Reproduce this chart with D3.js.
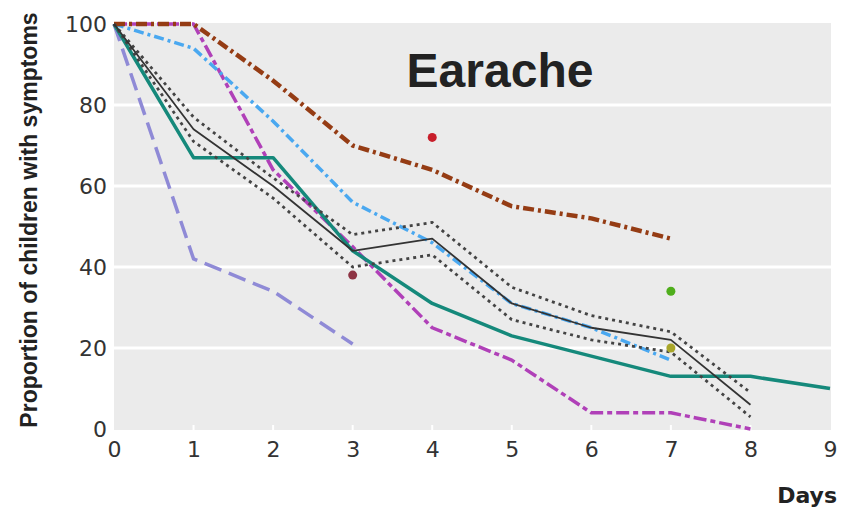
<!DOCTYPE html>
<html>
<head>
<meta charset="utf-8">
<script src="https://cdnjs.cloudflare.com/ajax/libs/d3/7.8.5/d3.min.js"></script>
<style>
  html, body { margin: 0; padding: 0; background: #fff; }
  svg { display: block; }
</style>
</head>
<body>
<div id="chart"></div>
<script>
// days on the x axis
const days = [0, 1, 2, 3, 4, 5, 6, 7, 8, 9];
const yTicks = [0, 20, 40, 60, 80, 100];

// series (percent of children with symptoms)
const brown    = [100, 100, 86, 70, 64, 55, 52, 47];
const blue     = [100, 94, 76, 56, 46, 31, 25, 17];
const magenta  = [100, 100, 64, 45, 25, 17, 4, 4, 0];
const lavender = [100, 42, 34, 21];
const teal     = [100, 67, 67, 44, 31, 23, 18, 13, 13, 10];
const pooled   = [100, 74, 60, 44, 47, 31, 25, 22, 6];
const ciUpper  = [100, 77, 62, 48, 51, 35, 28, 24, 9];
const ciLower  = [100, 71, 57, 40, 43, 27, 22, 19, 3];

// single study points
const dotDays   = [4, 3, 7, 7];
const dotValues = [72, 38, 34, 20];
const dotColors = [`#c81e2a`, `#8e3444`, `#4fae1c`, `#a9a62a`];

const width = 844, height = 510;
const panel = { left: 114, right: 831, top: 23, bottom: 430 };

const svg = d3.select(`#chart`).append(`svg`)
    .attr(`width`, width)
    .attr(`height`, height);

const x = d3.scaleLinear().domain([0, 9]).range([114, 830]);
const y = d3.scaleLinear().domain([0, 100]).range([429, 24]);

svg.append(`rect`)
    .attr(`x`, panel.left)
    .attr(`y`, panel.top)
    .attr(`width`, panel.right - panel.left)
    .attr(`height`, panel.bottom - panel.top)
    .attr(`fill`, `#ebebeb`);

// white grid lines
svg.selectAll(`.grid`)
    .data(yTicks.filter(d => d > 0 && d < 100))
  .enter().append(`line`)
    .attr(`x1`, panel.left)
    .attr(`x2`, panel.right)
    .attr(`y1`, d => y(d))
    .attr(`y2`, d => y(d))
    .attr(`stroke`, `#fff`)
    .attr(`stroke-width`, 3);

// little white ticks on the bottom edge
svg.selectAll(`.xtick`)
    .data(days.slice(1, 9))
  .enter().append(`line`)
    .attr(`x1`, d => x(d))
    .attr(`x2`, d => x(d))
    .attr(`y1`, panel.bottom - 5)
    .attr(`y2`, panel.bottom)
    .attr(`stroke`, `#fff`)
    .attr(`stroke-width`, 2);

// axes as text only
const yAxis = d3.axisLeft(y).tickValues(yTicks).tickSize(0).tickPadding(7);
const gy = svg.append(`g`).attr(`transform`, `translate(${panel.left},0)`).call(yAxis);
gy.select(`.domain`).remove();
gy.selectAll(`text`)
    .attr(`font-family`, `DejaVu Sans, sans-serif`)
    .attr(`font-size`, 22)
    .attr(`fill`, `#333`);

const xAxis = d3.axisBottom(x).tickValues(days).tickSize(0).tickPadding(11);
const gx = svg.append(`g`).attr(`transform`, `translate(0,${panel.bottom})`).call(xAxis);
gx.select(`.domain`).remove();
gx.selectAll(`text`)
    .attr(`font-family`, `DejaVu Sans, sans-serif`)
    .attr(`font-size`, 22)
    .attr(`fill`, `#333`);

const line = d3.line()
    .x((d, i) => x(days[i]))
    .y(d => y(d));

const series = [
  { values: lavender, color: `#8f8ad6`, width: 3.5, dash: `18,8` },
  { values: magenta,  color: `#b040b8`, width: 3.5, dash: `13,4,5,4` },
  { values: blue,     color: `#4aa8f0`, width: 3.5, dash: `10,4,3,4` },
  { values: teal,     color: `#15897b`, width: 3.5, dash: null },
  { values: brown,    color: `#953c14`, width: 4.5, dash: `11,4,3,4` },
  { values: ciUpper,  color: `#444`,    width: 2.8, dash: `3,4` },
  { values: ciLower,  color: `#444`,    width: 2.8, dash: `3,4` },
  { values: pooled,   color: `#333`,    width: 1.8, dash: null }
];

svg.selectAll(`.series`)
    .data(series)
  .enter().append(`path`)
    .attr(`d`, d => line(d.values))
    .attr(`fill`, `none`)
    .attr(`stroke`, d => d.color)
    .attr(`stroke-width`, d => d.width)
    .attr(`stroke-dasharray`, d => d.dash)
    .attr(`stroke-linejoin`, `round`);

svg.selectAll(`.dot`)
    .data(dotValues)
  .enter().append(`circle`)
    .attr(`cx`, (d, i) => x(dotDays[i]))
    .attr(`cy`, d => y(d))
    .attr(`r`, 4.5)
    .attr(`fill`, (d, i) => dotColors[i]);

svg.append(`text`)
    .attr(`x`, 500)
    .attr(`y`, 87)
    .attr(`text-anchor`, `middle`)
    .attr(`font-family`, `Liberation Sans, Arial, sans-serif`)
    .attr(`font-weight`, `bold`)
    .attr(`font-size`, 48)
    .attr(`fill`, `#222`)
    .text(`Earache`);

svg.append(`text`)
    .attr(`transform`, `translate(37,220) rotate(-90)`)
    .attr(`text-anchor`, `middle`)
    .attr(`font-family`, `Liberation Sans, Arial, sans-serif`)
    .attr(`font-weight`, `bold`)
    .attr(`font-size`, 23)
    .attr(`fill`, `#222`)
    .text(`Proportion of children with symptoms`);

svg.append(`text`)
    .attr(`x`, 837)
    .attr(`y`, 503)
    .attr(`text-anchor`, `end`)
    .attr(`font-family`, `DejaVu Sans, sans-serif`)
    .attr(`font-weight`, `bold`)
    .attr(`font-size`, 22)
    .attr(`fill`, `#222`)
    .text(`Days`);
</script>
</body>
</html>
